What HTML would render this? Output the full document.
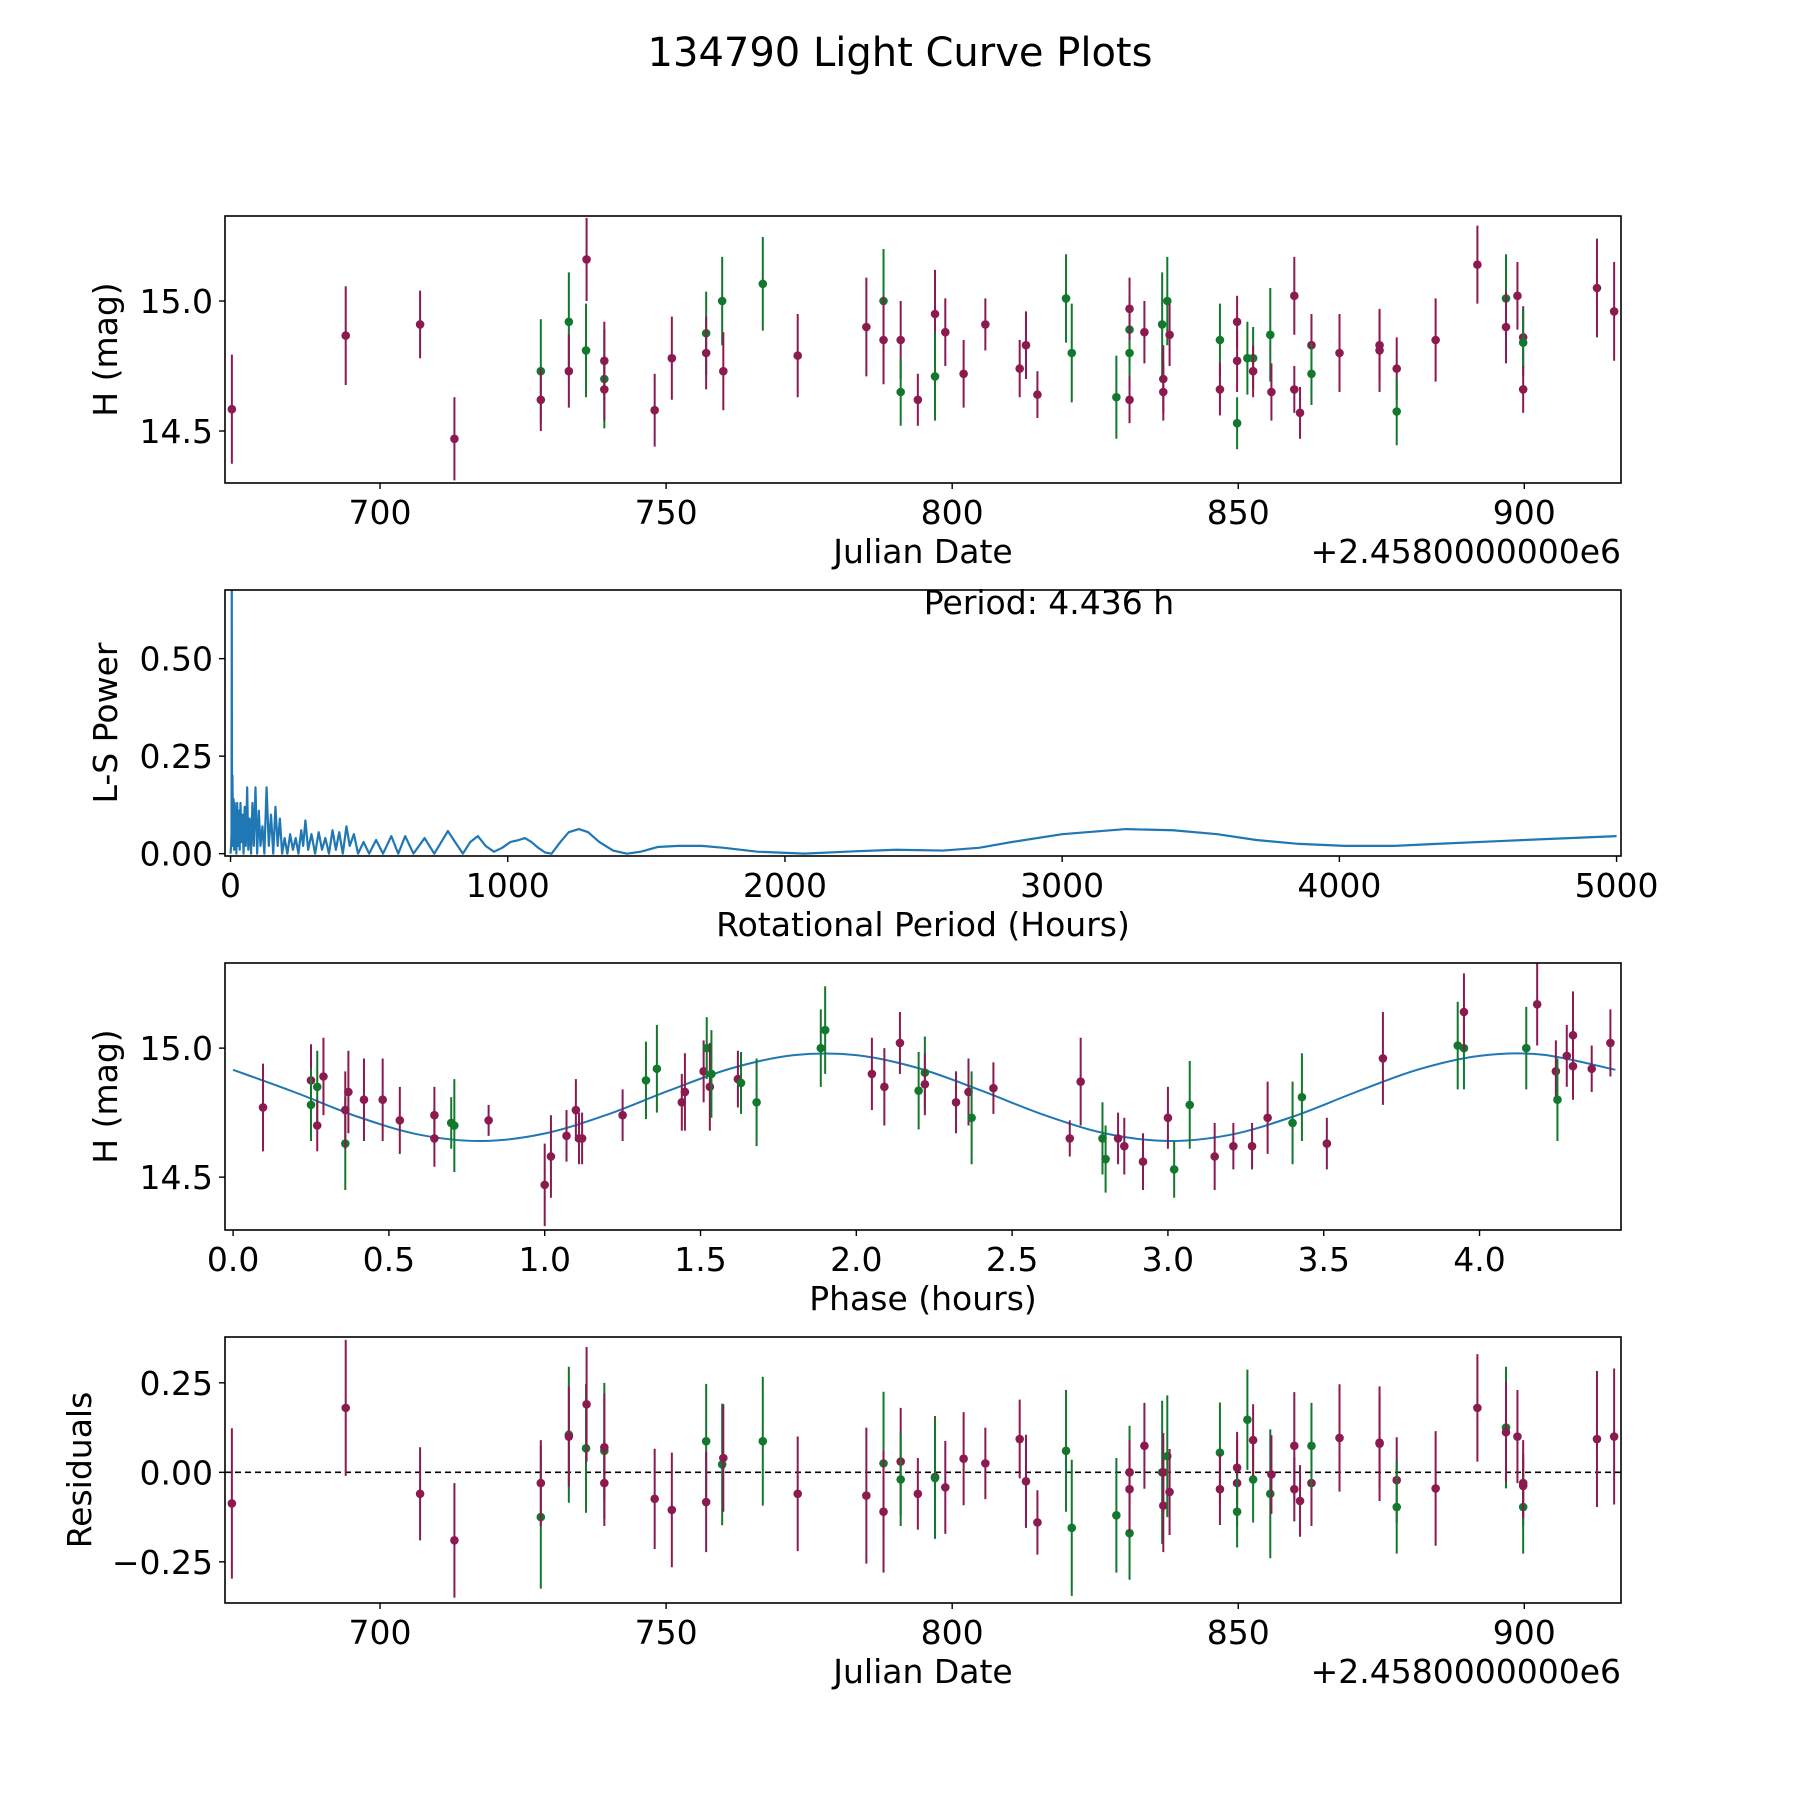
<!DOCTYPE html>
<html><head><meta charset="utf-8"><title>134790 Light Curve Plots</title>
<style>
html,body{margin:0;padding:0;background:#fff;}
svg{display:block;font-family:"DejaVu Sans","Liberation Sans",sans-serif;}
</style></head>
<body>
<svg id="fig" width="1800" height="1800" viewBox="0 0 1800 1800" xmlns="http://www.w3.org/2000/svg">
<rect width="1800" height="1800" fill="#fff"/>
<text x="900" y="66" font-size="40" text-anchor="middle">134790 Light Curve Plots</text>
</svg>
<script>
// ---------- data: light curve ----------
const dates = [674.1,694,707,713,728.1,728.1,733,733,736,736.1,739.2,739.2,739.2,748,751,757,757,759.8,760,766.9,773,785,788,788,791,791,794,797,797,798.8,802,805.8,811.8,812.9,814.9,819.9,820.9,828.7,831,831,831,831,833.6,836.7,836.9,836.9,837.6,838,846.8,846.8,849.8,849.8,849.8,851.6,852.6,852.6,855.6,855.8,859.8,859.8,860.8,862.8,862.8,867.7,874.7,874.7,877.7,877.7,884.5,891.8,896.8,896.8,898.8,899.8,899.8,899.8,912.7,915.7];
const mags = [14.584,14.867,14.91,14.47,14.73,14.62,14.92,14.73,14.81,15.16,14.70,14.77,14.66,14.58,14.78,14.876,14.80,15.0,14.73,15.066,14.79,14.90,15.0,14.85,14.85,14.65,14.62,14.95,14.71,14.88,14.72,14.91,14.74,14.83,14.64,15.01,14.80,14.63,14.80,14.89,14.97,14.62,14.88,14.91,14.70,14.65,15.0,14.87,14.85,14.66,14.92,14.77,14.53,14.78,14.78,14.73,14.87,14.65,15.02,14.66,14.57,14.83,14.72,14.80,14.81,14.83,14.74,14.575,14.85,15.14,15.01,14.90,15.02,14.86,14.84,14.66,15.05,14.96];
const errs = [0.21,0.19,0.13,0.16,0.2,0.12,0.19,0.14,0.18,0.16,0.19,0.15,0.12,0.14,0.16,0.16,0.14,0.17,0.15,0.18,0.16,0.19,0.2,0.17,0.15,0.13,0.10,0.17,0.17,0.13,0.13,0.1,0.11,0.13,0.09,0.17,0.19,0.16,0.13,0.13,0.12,0.09,0.12,0.2,0.13,0.11,0.17,0.12,0.14,0.1,0.1,0.12,0.1,0.14,0.12,0.1,0.18,0.11,0.15,0.09,0.1,0.12,0.12,0.15,0.16,0.13,0.12,0.13,0.16,0.15,0.17,0.14,0.13,0.12,0.13,0.09,0.19,0.19];
const colors = "m,m,m,m,g,m,g,m,g,m,g,m,m,m,m,g,m,g,m,g,m,m,g,m,m,g,m,m,g,m,m,m,m,m,m,g,g,g,g,g,m,m,m,g,m,m,g,m,g,m,m,m,g,g,g,m,g,m,m,m,m,m,g,m,m,m,m,g,m,m,g,m,m,m,g,m,m,m".split(",");
const resid = [-0.087,0.18,-0.06,-0.19,-0.125,-0.03,0.105,0.10,0.067,0.19,0.06,0.07,-0.03,-0.074,-0.105,0.087,-0.083,0.022,0.04,0.087,-0.06,-0.065,0.025,-0.11,0.03,-0.02,-0.06,-0.013,-0.016,-0.042,0.038,0.025,0.093,-0.025,-0.14,0.06,-0.155,-0.12,-0.17,0.0,-0.047,0.0,0.074,0.0,-0.093,0.0,0.045,-0.055,0.055,-0.047,0.013,-0.03,-0.11,0.147,-0.02,0.09,-0.06,-0.006,0.074,-0.047,-0.08,-0.03,0.074,0.096,0.08,0.083,-0.022,-0.097,-0.045,0.18,0.125,0.112,0.10,-0.03,-0.097,-0.038,0.093,0.10];
// ---------- data: phase plot ----------
const phases = [0.096,0.25,0.25,0.27,0.27,0.29,0.36,0.36,0.37,0.42,0.48,0.535,0.646,0.646,0.70,0.71,0.82,1.0,1.02,1.07,1.10,1.11,1.12,1.25,1.325,1.36,1.44,1.45,1.51,1.52,1.53,1.535,1.62,1.63,1.68,1.886,1.90,2.05,2.09,2.14,2.20,2.22,2.22,2.32,2.36,2.37,2.44,2.685,2.72,2.79,2.80,2.84,2.86,2.92,3.0,3.02,3.07,3.15,3.21,3.27,3.32,3.40,3.43,3.51,3.69,3.93,3.95,3.95,4.15,4.185,4.245,4.25,4.28,4.30,4.30,4.36,4.42];
const pmags = [14.77,14.875,14.78,14.85,14.70,14.89,14.63,14.76,14.83,14.80,14.80,14.72,14.74,14.65,14.71,14.70,14.72,14.47,14.58,14.66,14.76,14.65,14.65,14.74,14.875,14.92,14.79,14.83,14.91,15.0,14.85,14.90,14.88,14.865,14.79,15.0,15.07,14.90,14.85,15.02,14.835,14.905,14.86,14.79,14.83,14.73,14.845,14.65,14.87,14.65,14.57,14.65,14.62,14.56,14.73,14.53,14.78,14.58,14.62,14.62,14.73,14.71,14.81,14.63,14.96,15.01,15.0,15.14,15.0,15.17,14.91,14.80,14.97,14.93,15.05,14.92,15.02];
const perrs = [0.17,0.14,0.14,0.14,0.1,0.15,0.18,0.15,0.16,0.16,0.16,0.13,0.11,0.11,0.1,0.18,0.06,0.16,0.16,0.1,0.12,0.1,0.1,0.1,0.15,0.17,0.11,0.15,0.12,0.12,0.17,0.17,0.11,0.12,0.17,0.15,0.17,0.14,0.15,0.12,0.15,0.14,0.12,0.12,0.13,0.18,0.1,0.07,0.17,0.14,0.13,0.1,0.11,0.11,0.12,0.11,0.17,0.13,0.09,0.09,0.14,0.16,0.17,0.1,0.18,0.17,0.16,0.15,0.16,0.16,0.12,0.16,0.12,0.13,0.17,0.09,0.13];
const pcolors = "m,m,g,g,m,m,g,m,m,m,m,m,m,m,g,g,m,m,m,m,m,m,m,m,g,g,m,m,m,g,m,g,m,g,g,g,g,m,m,m,g,g,m,m,m,g,m,m,m,g,g,m,m,m,m,g,g,m,m,m,m,g,g,m,m,g,g,m,g,m,m,g,m,m,m,m,m".split(",");
const modelPhase = [0,0.2,0.4,0.6,0.8,1.0,1.2,1.4,1.6,1.8,2.0,2.2,2.4,2.6,2.8,3.0,3.2,3.4,3.6,3.8,4.0,4.2,4.436];
const modelMag = [14.916,14.828,14.734,14.664,14.64,14.669,14.742,14.836,14.922,14.973,14.973,14.922,14.836,14.742,14.669,14.64,14.664,14.734,14.828,14.916,14.97,14.975,14.916];
// ---------- data: periodogram ----------
const lsPeriod = [0,2,3.5,4.0,4.44,4.9,5.5,7,9,11,13,15,17,19,21,24,27,30,33,36,39,43,47,51,55,60,64,69,74,79,84,90,96,102,108,115,122,130,138,146,154,162,170,178,186,195,205,215,225,235,245,255,262,270,280,292,305,318,330,342,355,368,380,392,405,418,430,445,460,480,500,525,550,580,605,630,660,700,735,784,810,838,865,892,920,950,980,1010,1040,1062,1085,1110,1135,1158,1190,1220,1257,1290,1330,1380,1430,1480,1540,1614,1700,1780,1900,2070,2250,2400,2570,2700,2820,3000,3230,3400,3560,3700,3855,4020,4200,4350,4600,5000];
const lsPower = [0,0.02,0.05,0.3,0.70,0.3,0.08,0.2,0.02,0.14,0.01,0.13,0.02,0.12,0.0,0.13,0.02,0.11,0.01,0.13,0.03,0.1,0.0,0.12,0.02,0.17,0.01,0.09,0.0,0.13,0.02,0.17,0.0,0.11,0.02,0.07,0.0,0.17,0.02,0.1,0.0,0.12,0.02,0.09,0.0,0.04,0.0,0.05,0.01,0.04,0.0,0.06,0.02,0.085,0.01,0.05,0.0,0.055,0.01,0.04,0.0,0.06,0.01,0.055,0.0,0.07,0.02,0.05,0.0,0.03,0.0,0.035,0.0,0.045,0.0,0.045,0.0,0.04,0.0,0.058,0.03,0.0,0.03,0.045,0.02,0.005,0.015,0.03,0.035,0.04,0.03,0.015,0.003,0.0,0.03,0.055,0.063,0.055,0.03,0.008,0.0,0.005,0.017,0.02,0.02,0.015,0.005,0.0,0.006,0.01,0.008,0.015,0.03,0.05,0.063,0.06,0.05,0.035,0.025,0.02,0.02,0.025,0.033,0.045];
const dateTicks = [700,750,800,850,900];
const magTicks = [14.5,15.0];
const lsXTicks = [0,1000,2000,3000,4000,5000];
const lsYTicks = [0,0.25,0.5];
const phaseTicks = [0,0.5,1,1.5,2,2.5,3,3.5,4];
const residTicks = [-0.25,0,0.25];

const NS = "http://www.w3.org/2000/svg";
const svg = document.getElementById('fig');
const COL = {m:"#8a1a50", g:"#12782e"};
const L = 225, R = 1621;
function mk(tag, attrs, parent){const e=document.createElementNS(NS,tag);for(const k in attrs)e.setAttribute(k,attrs[k]);(parent||svg).appendChild(e);return e;}
function scale(d0,d1,r0,r1){return v=>r0+(v-d0)/(d1-d0)*(r1-r0);}

function panel(id, top, bot, xd, yd, xt, xfmt, yt, yfmt, xlabel, ylabel, ylabX){
  const g = mk('g',{});
  
  
  const cp = mk('clipPath',{id:'clip-'+id}, g);
  mk('rect',{x:L,y:top,width:R-L,height:bot-top},cp);
  const x = scale(xd[0],xd[1],L,R), y = scale(yd[0],yd[1],bot,top);
  const plot = mk('g',{'clip-path':'url(#clip-'+id+')'}, g);
  
  
  const frame = mk('rect',{x:L,y:top,width:R-L,height:bot-top,fill:'none',stroke:'#000','stroke-width':1.6});
  
  
  const xa = mk('g',{});
  
  
  xt.forEach(v=>{const px=x(v);
    mk('line',{x1:px,x2:px,y1:bot,y2:bot+6,stroke:'#000','stroke-width':1.4},xa);
    const t=mk('text',{x:px,y:bot+41,'font-size':33,'text-anchor':'middle'},xa);
    
    
    t.textContent=xfmt(v);});
  const ya = mk('g',{});
  
  
  yt.forEach(v=>{const py=y(v);
    mk('line',{x1:L-6,x2:L,y1:py,y2:py,stroke:'#000','stroke-width':1.4},ya);
    const t=mk('text',{x:L-12,y:py+12,'font-size':33,'text-anchor':'end'},ya);
    
    
    t.textContent=yfmt(v);});
  const xl=mk('text',{x:(L+R)/2,y:bot+80,'font-size':33,'text-anchor':'middle'});
  
  
  xl.textContent=xlabel;
  const yl=mk('text',{x:ylabX,y:(top+bot)/2,'font-size':33,'text-anchor':'middle',transform:`rotate(-90 ${ylabX} ${(top+bot)/2})`});
  
  
  yl.textContent=ylabel;
  return {x,y,plot,top,bot};
}
function errpoints(p, xs, ys, es, cs){
  const n=Math.min(xs.length,ys.length,es.length,cs.length);
  for(let i=0;i<n;i++){
    const c=COL[cs[i]]||COL.m, px=p.x(xs[i]);
    const ln=mk('line',{x1:px,x2:px,y1:p.y(ys[i]-es[i]),y2:p.y(ys[i]+es[i]),stroke:c,'stroke-width':2},p.plot);
    
    
    const ci=mk('circle',{cx:px,cy:p.y(ys[i]),r:4.3,fill:c},p.plot);
    
    
  }
}
const f1=v=>v.toFixed(1), f0=v=>String(v), f2=v=>(v<0?'\u2212':'')+Math.abs(v).toFixed(2);

// Panel 1: light curve
const p1 = panel('light-curve',216,483,[672.9,916.9],[14.30,15.327],dateTicks,f0,magTicks,f1,'Julian Date','H (mag)',117);
errpoints(p1,dates,mags,errs,colors);
const off1=mk('text',{x:R,y:563,'font-size':33,'text-anchor':'end'});


off1.textContent='+2.4580000000e6';

// Panel 2: periodogram
const p2 = panel('periodogram',590,856,[-20,5016],[-0.006,0.676],lsXTicks,f0,lsYTicks,f2,'Rotational Period (Hours)','L-S Power',117);
let d='';
for(let i=0;i<Math.min(lsPeriod.length,lsPower.length);i++){d+=(i?'L':'M')+p2.x(lsPeriod[i]).toFixed(2)+' '+p2.y(lsPower[i]).toFixed(2);}
const lsLine=mk('path',{d:d,fill:'none',stroke:'#1f77b4','stroke-width':2.2,'stroke-linejoin':'round'},p2.plot);


const per=mk('text',{x:1049,y:614,'font-size':33,'text-anchor':'middle'});


per.textContent='Period: 4.436 h';

// Panel 3: phase
const p3 = panel('phase',963,1230,[-0.026,4.454],[14.295,15.33],phaseTicks,f1,magTicks,f1,'Phase (hours)','H (mag)',117);
{
  const pts=modelPhase.map((v,i)=>[p3.x(v),p3.y(modelMag[i])]);
  let s='M'+pts[0][0]+' '+pts[0][1];
  for(let i=0;i<pts.length-1;i++){
    const p0=pts[Math.max(0,i-1)],a=pts[i],b=pts[i+1],p4=pts[Math.min(pts.length-1,i+2)];
    const c1=[a[0]+(b[0]-p0[0])/6,a[1]+(b[1]-p0[1])/6], c2=[b[0]-(p4[0]-a[0])/6,b[1]-(p4[1]-a[1])/6];
    s+=`C${c1[0]} ${c1[1]} ${c2[0]} ${c2[1]} ${b[0]} ${b[1]}`;
  }
  const ml=mk('path',{d:s,fill:'none',stroke:'#1f77b4','stroke-width':2},p3.plot);
  
  
}
errpoints(p3,phases,pmags,perrs,pcolors);

// Panel 4: residuals
const p4 = panel('residuals',1337,1603,[672.9,916.9],[-0.365,0.378],dateTicks,f0,residTicks,f2,'Julian Date','Residuals',91);
const zl=mk('line',{x1:L,x2:R,y1:p4.y(0),y2:p4.y(0),stroke:'#000','stroke-width':1.6,'stroke-dasharray':'6,4'},p4.plot);


errpoints(p4,dates,resid,errs,colors);
const off4=mk('text',{x:R,y:1683,'font-size':33,'text-anchor':'end'});


off4.textContent='+2.4580000000e6';
</script>
</body></html>
